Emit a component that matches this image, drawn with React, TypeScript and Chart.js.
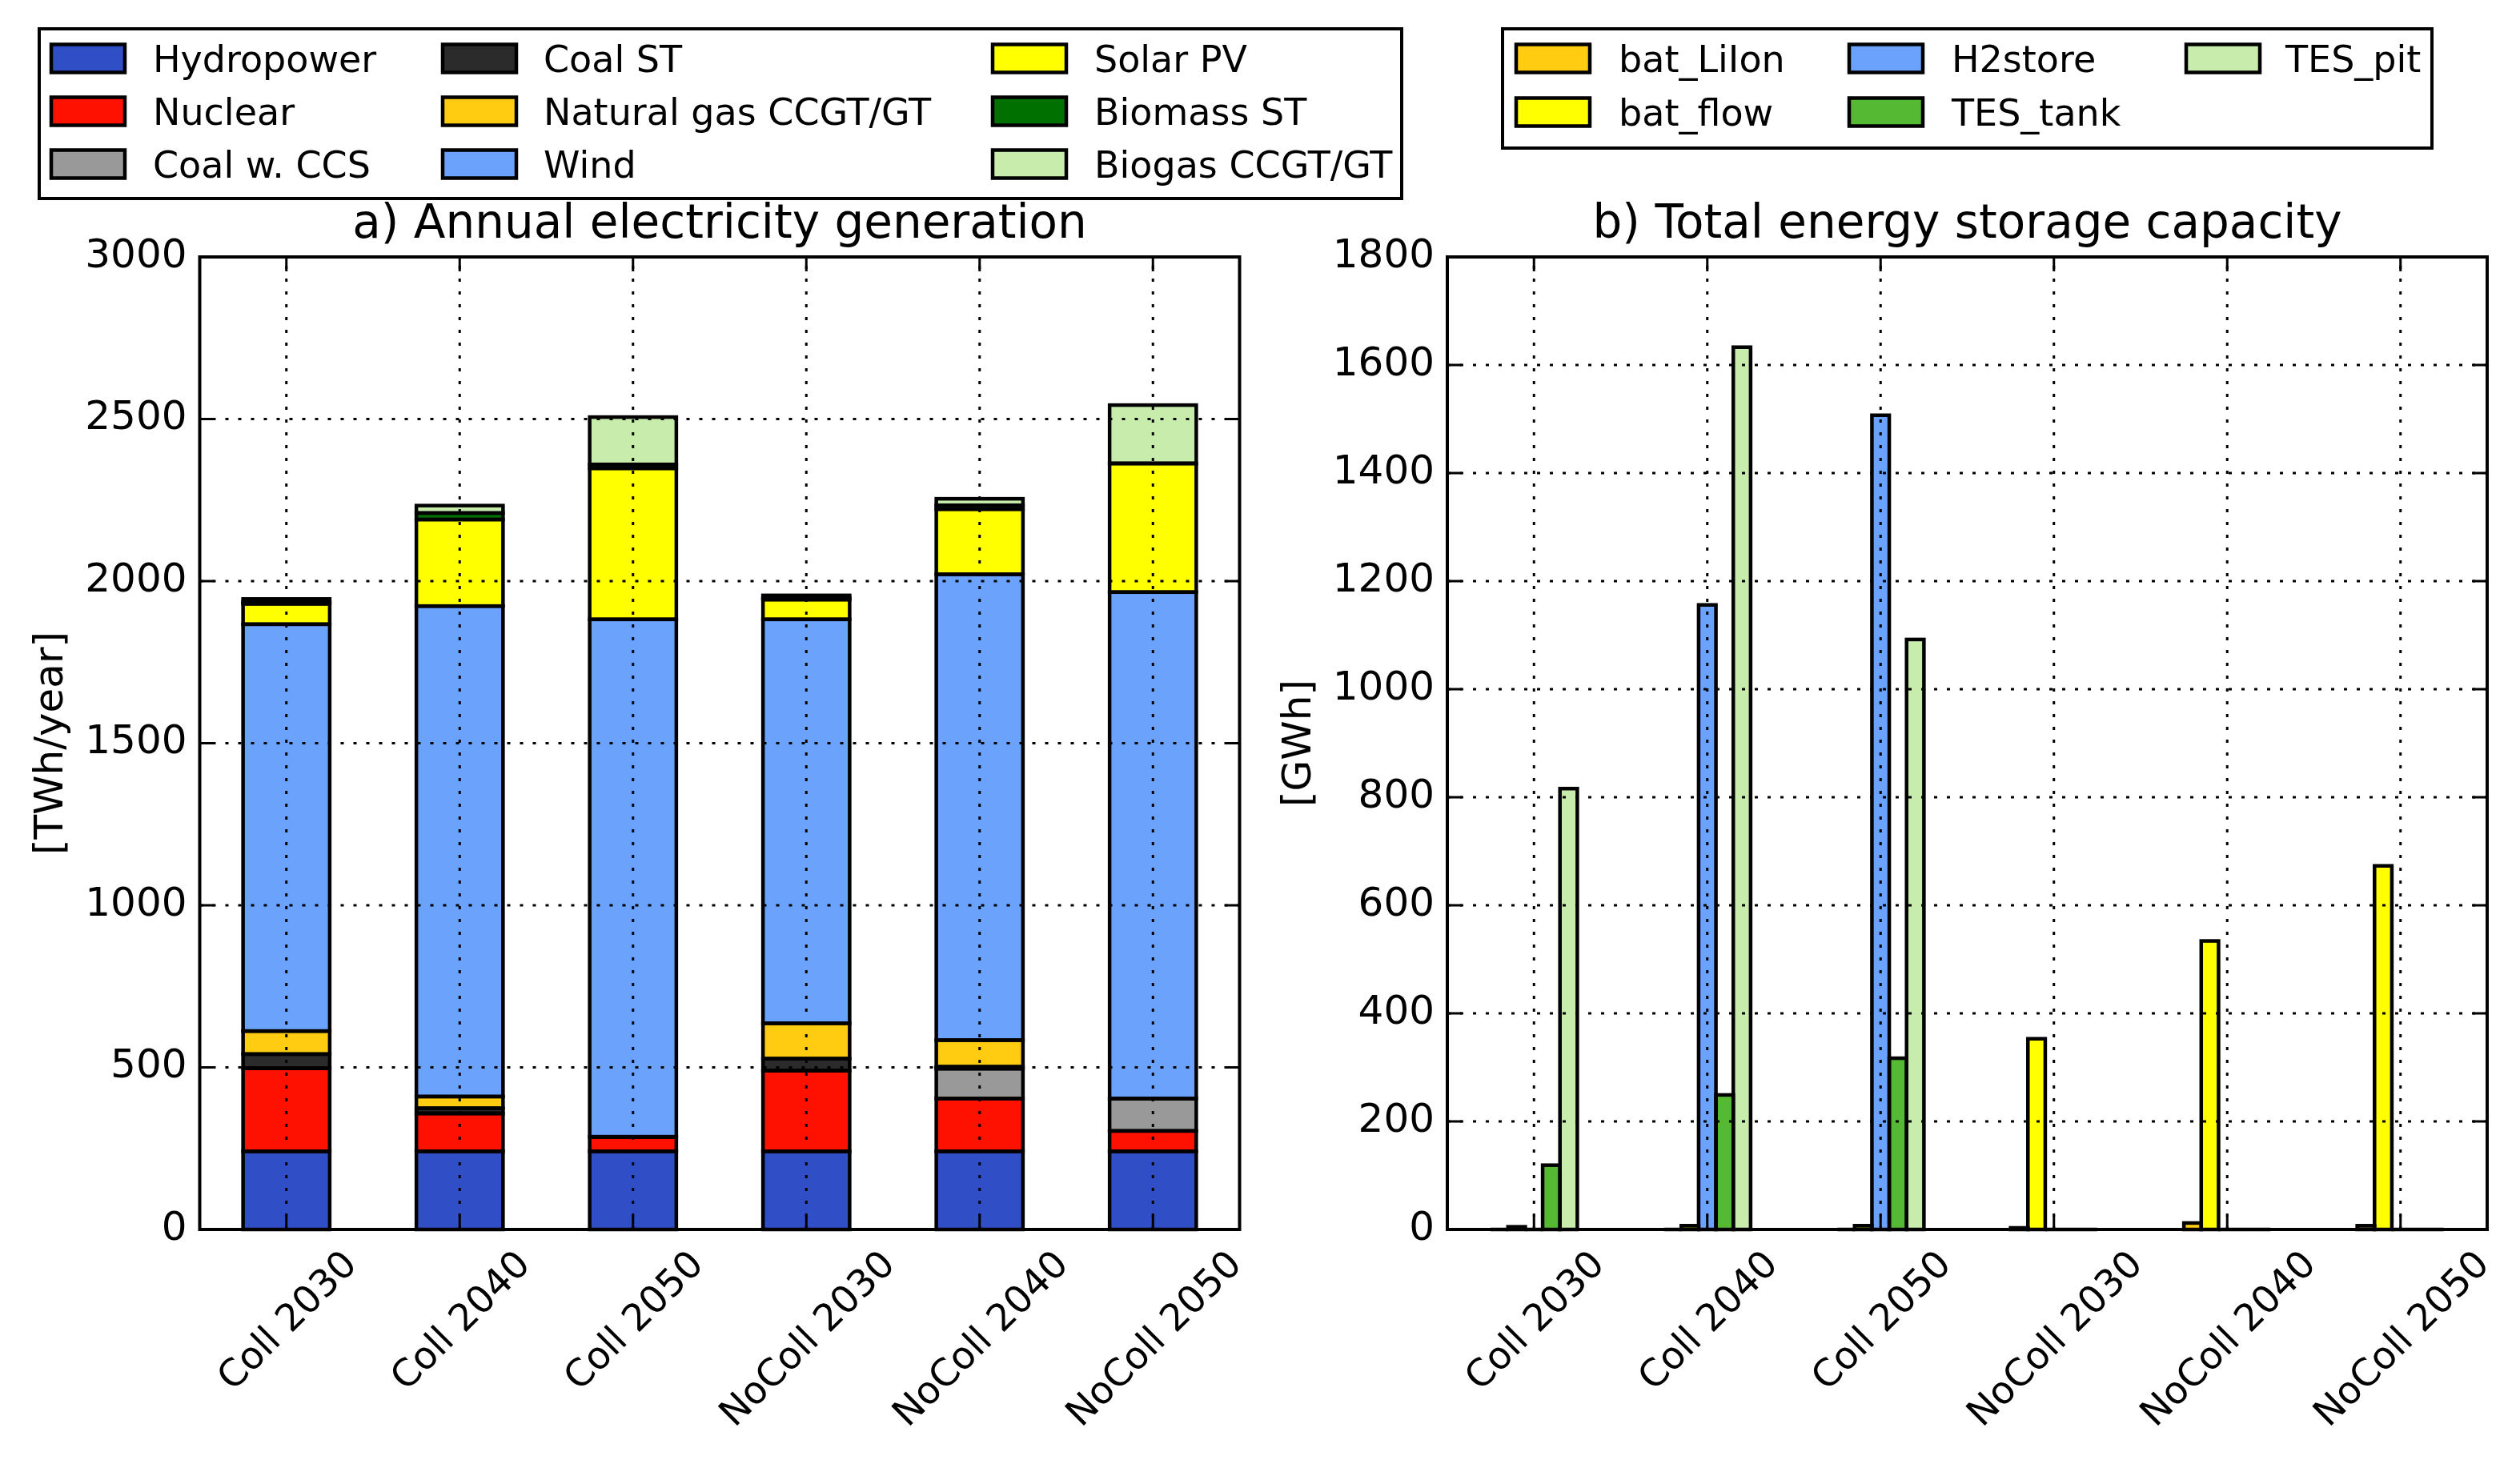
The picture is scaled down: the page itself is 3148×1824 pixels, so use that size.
import React, { useEffect, useRef } from "react";
import { Chart, registerables } from "chart.js";

Chart.register(...registerables);

const FONT = '"DejaVu Sans", "Liberation Sans", sans-serif';

// ---------- categories ----------
const scenarios = ["Coll 2030", "Coll 2040", "Coll 2050", "NoColl 2030", "NoColl 2040", "NoColl 2050"];

// ---------- a) Annual electricity generation [TWh/year] ----------
const hydropower = [241, 241, 241, 241, 241, 241];
const nuclear = [256, 117, 45, 249, 163, 63];
const coalCCS = [0, 0, 0, 0, 92, 100];
const coalST = [44, 16, 0, 37, 6, 0];
const naturalGas = [71, 36, 0, 109, 82, 0];
const wind = [1255, 1513, 1596, 1246, 1437, 1562];
const solarPV = [63, 267, 466, 61, 201, 397];
const biomassST = [6, 20, 12, 5, 12, 0];
const biogas = [9, 23, 146, 8, 20, 180];
const genTicks = [0, 500, 1000, 1500, 2000, 2500, 3000];

// ---------- b) Total energy storage capacity [GWh] ----------
const batLiIon = [0, 0, 0, 3, 12, 7];
const batFlow = [5, 7, 7, 353, 534, 673];
const h2store = [0, 1156, 1507, 0, 0, 0];
const tesTank = [119, 249, 317, 0, 0, 0];
const tesPit = [816, 1633, 1092, 0, 0, 0];
const storTicks = [0, 200, 400, 600, 800, 1000, 1200, 1400, 1600, 1800];

const genSeries = [
  { name: "Hydropower", values: hydropower, color: "#304ec6" },
  { name: "Nuclear", values: nuclear, color: "#ff1100" },
  { name: "Coal w. CCS", values: coalCCS, color: "#999999" },
  { name: "Coal ST", values: coalST, color: "#2b2b2b" },
  { name: "Natural gas CCGT/GT", values: naturalGas, color: "#ffcc11" },
  { name: "Wind", values: wind, color: "#6aa2fc" },
  { name: "Solar PV", values: solarPV, color: "#ffff00" },
  { name: "Biomass ST", values: biomassST, color: "#007000" },
  { name: "Biogas CCGT/GT", values: biogas, color: "#c7ecab" },
];

const storSeries = [
  { name: "bat_LiIon", values: batLiIon, color: "#ffcc11" },
  { name: "bat_flow", values: batFlow, color: "#ffff00" },
  { name: "H2store", values: h2store, color: "#6aa2fc" },
  { name: "TES_tank", values: tesTank, color: "#56b934" },
  { name: "TES_pit", values: tesPit, color: "#c7ecab" },
];

// ---------- layout (pixels) ----------
const W = 3148;
const H = 1824;
const PLOT_TOP = 321;
const PLOT_BOTTOM = 1536;
const Y_AXIS_W = 240;
const X_AXIS_H = 10;

type LegendCfg = {
  box: [number, number, number, number];
  patchX: number[];
  textX: number[];
  rowY: number[];
  rows: number;
};

type PanelCfg = {
  id: string;
  left: number;
  right: number;
  title: string;
  ylabel: string;
  ylabelGap: number;
  ticks: number[];
  legendItems: { name: string; color: string }[];
  legend: LegendCfg;
};

function makeDecor(cfg: PanelCfg) {
  return {
    id: cfg.id,
    afterDatasetsDraw(chart: any) {
      const ctx: CanvasRenderingContext2D = chart.ctx;
      const { left, right, top, bottom } = chart.chartArea;
      ctx.save();
      // bar outlines (centered on edges, like matplotlib)
      ctx.strokeStyle = "#000";
      ctx.lineWidth = 4.5;
      ctx.lineJoin = "miter";
      chart.data.datasets.forEach((_: any, i: number) => {
        const meta = chart.getDatasetMeta(i);
        meta.data.forEach((el: any) => {
          const p = el.getProps(["x", "y", "base", "width"], true);
          const y0 = Math.min(p.y, p.base);
          const h = Math.abs(p.base - p.y);
          ctx.strokeRect(p.x - p.width / 2, y0, p.width, h);
        });
      });
      // dotted grid on top of bars
      const ys = chart.scales.y;
      const xs = chart.scales.x;
      ctx.lineWidth = 3;
      ctx.lineCap = "butt";
      ctx.setLineDash([4, 12]);
      cfg.ticks.forEach((v) => {
        const py = ys.getPixelForValue(v);
        ctx.beginPath();
        ctx.moveTo(left, py);
        ctx.lineTo(right, py);
        ctx.stroke();
      });
      chart.data.labels.forEach((_: any, i: number) => {
        const px = xs.getPixelForValue(i);
        ctx.beginPath();
        ctx.moveTo(px, bottom);
        ctx.lineTo(px, top);
        ctx.stroke();
      });
      ctx.setLineDash([]);
      ctx.restore();
    },
    afterDraw(chart: any) {
      const ctx: CanvasRenderingContext2D = chart.ctx;
      const { left, right, top, bottom } = chart.chartArea;
      const ys = chart.scales.y;
      const xs = chart.scales.x;
      ctx.save();
      ctx.strokeStyle = "#000";
      // inward tick marks on all four sides
      const TL = 18;
      ctx.lineWidth = 3;
      cfg.ticks.forEach((v) => {
        const py = ys.getPixelForValue(v);
        ctx.beginPath();
        ctx.moveTo(left, py);
        ctx.lineTo(left + TL, py);
        ctx.moveTo(right, py);
        ctx.lineTo(right - TL, py);
        ctx.stroke();
      });
      chart.data.labels.forEach((_: any, i: number) => {
        const px = xs.getPixelForValue(i);
        ctx.beginPath();
        ctx.moveTo(px, bottom);
        ctx.lineTo(px, bottom - TL);
        ctx.moveTo(px, top);
        ctx.lineTo(px, top + TL);
        ctx.stroke();
      });
      // frame
      ctx.lineWidth = 4;
      ctx.strokeRect(left, top, right - left, bottom - top);

      ctx.fillStyle = "#000";
      // rotated x tick labels, centered under tick
      const xf = 47;
      ctx.font = `${xf}px ${FONT}`;
      ctx.textAlign = "center";
      ctx.textBaseline = "alphabetic";
      const th = 1.164 * xf;
      chart.data.labels.forEach((lab: string, i: number) => {
        const px = xs.getPixelForValue(i);
        const w = ctx.measureText(lab).width;
        const d = (w + th) / (2 * Math.SQRT2);
        const cy = bottom + 15 + d;
        ctx.save();
        ctx.translate(px, cy);
        ctx.rotate(-Math.PI / 4);
        ctx.fillText(lab, 0, 0.35 * xf);
        ctx.restore();
      });

      // title
      ctx.font = `58px ${FONT}`;
      ctx.textAlign = "center";
      ctx.fillText(cfg.title, (left + right) / 2, 297);

      // y label
      ctx.font = `50px ${FONT}`;
      ctx.save();
      ctx.translate(left - cfg.ylabelGap, (top + bottom) / 2);
      ctx.rotate(-Math.PI / 2);
      ctx.textAlign = "center";
      ctx.fillText(cfg.ylabel, 0, 0);
      ctx.restore();

      // legend
      const L = cfg.legend;
      const [bx0, by0, bx1, by1] = L.box;
      ctx.fillStyle = "#fff";
      ctx.fillRect(bx0, by0, bx1 - bx0, by1 - by0);
      ctx.lineWidth = 4;
      ctx.strokeStyle = "#000";
      ctx.strokeRect(bx0, by0, bx1 - bx0, by1 - by0);
      ctx.font = `46px ${FONT}`;
      ctx.textAlign = "left";
      cfg.legendItems.forEach((it, k) => {
        const col = Math.floor(k / L.rows);
        const row = k % L.rows;
        const cy = L.rowY[row];
        const px = L.patchX[col];
        ctx.fillStyle = it.color;
        ctx.fillRect(px, cy - 17.5, 92, 35);
        ctx.lineWidth = 4.5;
        ctx.strokeRect(px, cy - 17.5, 92, 35);
        ctx.fillStyle = "#000";
        ctx.fillText(it.name, L.textX[col], cy + 16.5);
      });
      ctx.restore();
    },
  };
}

function buildChart(
  canvas: HTMLCanvasElement,
  cfg: PanelCfg,
  series: { name: string; values: number[]; color: string }[],
  stacked: boolean,
  yMax: number,
  categoryPercentage: number
) {
  return new Chart(canvas, {
    type: "bar",
    data: {
      labels: scenarios,
      datasets: series.map((s) => ({
        label: s.name,
        data: s.values,
        backgroundColor: s.color,
        borderWidth: 0,
        categoryPercentage,
        barPercentage: 1.0,
      })),
    },
    options: {
      responsive: false,
      animation: false,
      devicePixelRatio: 1,
      events: [],
      layout: {
        padding: {
          left: cfg.left - Y_AXIS_W,
          right: W - cfg.right,
          top: PLOT_TOP,
          bottom: H - PLOT_BOTTOM - X_AXIS_H,
        },
      },
      scales: {
        x: {
          stacked,
          offset: true,
          grid: { display: false, drawTicks: false },
          border: { display: false },
          ticks: { display: false },
          afterFit: (s: any) => {
            s.height = X_AXIS_H;
          },
        },
        y: {
          stacked,
          min: 0,
          max: yMax,
          grid: { display: false, drawTicks: false },
          border: { display: false },
          afterBuildTicks: (s: any) => {
            s.ticks = cfg.ticks.map((v) => ({ value: v }));
          },
          ticks: {
            color: "#000",
            padding: 16,
            font: { family: FONT, size: 50 },
            callback: (v: any) => String(v),
          },
          afterFit: (s: any) => {
            s.width = Y_AXIS_W;
          },
        },
      },
      plugins: {
        legend: { display: false },
        tooltip: { enabled: false },
        title: { display: false },
      },
    } as any,
    plugins: [makeDecor(cfg) as any],
  });
}

const genCfg: PanelCfg = {
  id: "decorGen",
  left: 249.5,
  right: 1548.5,
  title: "a) Annual electricity generation",
  ylabel: "[TWh/year]",
  ylabelGap: 171.5,
  ticks: genTicks,
  legendItems: genSeries.map((s) => ({ name: s.name, color: s.color })),
  legend: {
    box: [49, 36, 1751, 248],
    patchX: [64, 553, 1240],
    textX: [191, 679, 1367],
    rowY: [73, 139, 205],
    rows: 3,
  },
};

const storCfg: PanelCfg = {
  id: "decorStor",
  left: 1808,
  right: 3107,
  title: "b) Total energy storage capacity",
  ylabel: "[GWh]",
  ylabelGap: 171.5,
  ticks: storTicks,
  legendItems: storSeries.map((s) => ({ name: s.name, color: s.color })),
  legend: {
    box: [1877, 36, 3038, 185],
    patchX: [1894, 2310, 2731],
    textX: [2022, 2438, 2855],
    rowY: [73, 140],
    rows: 2,
  },
};

export default function App() {
  const genRef = useRef<HTMLCanvasElement | null>(null);
  const storRef = useRef<HTMLCanvasElement | null>(null);

  useEffect(() => {
    document.body.style.margin = "0";
    const c1 = buildChart(genRef.current!, genCfg, genSeries, true, 3000, 0.5);
    const c2 = buildChart(storRef.current!, storCfg, storSeries, false, 1800, 0.5);
    return () => {
      c1.destroy();
      c2.destroy();
    };
  }, []);

  const cs: React.CSSProperties = { position: "absolute", left: 0, top: 0, width: W, height: H };
  return (
    <div style={{ position: "fixed", left: 0, top: 0, width: W, height: H, background: "#fff" }}>
      <canvas ref={genRef} width={W} height={H} style={cs} />
      <canvas ref={storRef} width={W} height={H} style={cs} />
    </div>
  );
}
